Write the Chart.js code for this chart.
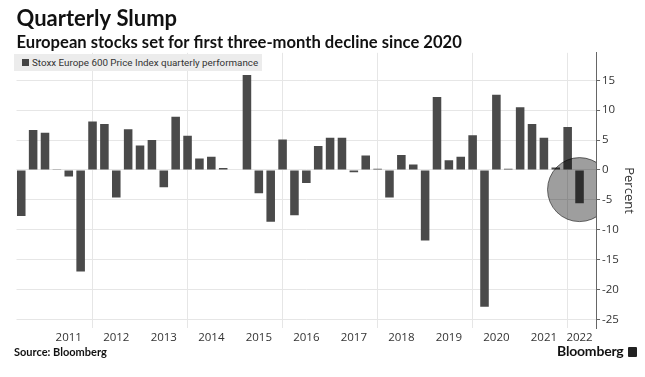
<!DOCTYPE html>
<html><head><meta charset="utf-8">
<script src="https://cdn.jsdelivr.net/npm/chart.js@4/dist/chart.umd.min.js"></script>
<style>
html,body{margin:0;padding:0;background:#fff;}
#wrap{position:relative;width:645px;height:377px;overflow:hidden;}
canvas{position:absolute;left:0;top:0;}
.lg{position:absolute;left:14px;top:54px;width:248px;height:17px;background:#ececec;font:9.8px Roboto,sans-serif;color:#333;line-height:17px;box-sizing:border-box;padding-left:18px;white-space:nowrap;}
.mk{position:absolute;left:8px;top:5px;width:7px;height:7px;background:#444;}
.src{position:absolute;left:14px;top:345px;font:bold 11px Lato,sans-serif;color:#111;}
.logo{position:absolute;left:557px;top:342px;font:bold 14px Lato,sans-serif;color:#111;letter-spacing:-0.2px;}
.ic{display:inline-block;width:9px;height:10px;background:#222;border-radius:1px;margin-left:4px;vertical-align:-1px;}
</style></head><body>
<div id="wrap"><canvas id="c" width="645" height="377"></canvas>
<div class="lg" id="lg"><span class="mk"></span><span id="lgText"></span></div>
<div class="src">Source: Bloomberg</div>
<div class="logo">Bloomberg<span class="ic"></span></div>
</div>
<script>
const quarters = [
  'Q2 2010','Q3 2010','Q4 2010',
  'Q1 2011','Q2 2011','Q3 2011','Q4 2011',
  'Q1 2012','Q2 2012','Q3 2012','Q4 2012',
  'Q1 2013','Q2 2013','Q3 2013','Q4 2013',
  'Q1 2014','Q2 2014','Q3 2014','Q4 2014',
  'Q1 2015','Q2 2015','Q3 2015','Q4 2015',
  'Q1 2016','Q2 2016','Q3 2016','Q4 2016',
  'Q1 2017','Q2 2017','Q3 2017','Q4 2017',
  'Q1 2018','Q2 2018','Q3 2018','Q4 2018',
  'Q1 2019','Q2 2019','Q3 2019','Q4 2019',
  'Q1 2020','Q2 2020','Q3 2020','Q4 2020',
  'Q1 2021','Q2 2021','Q3 2021','Q4 2021',
  'Q1 2022'
];
const performance = [
  -7.7, 6.7, 6.2,
  0.1, -1.1, -17.0, 8.1,
  7.7, -4.6, 6.8, 4.1,
  5.0, -2.9, 8.9, 5.7,
  1.9, 2.2, 0.3, -0.1,
  15.9, -3.9, -8.7, 5.1,
  -7.6, -2.2, 4.0, 5.4,
  5.4, -0.4, 2.4, 0.2,
  -4.6, 2.5, 0.9, -11.8,
  12.2, 1.6, 2.2, 5.8,
  -22.9, 12.6, 0.2, 10.5,
  7.7, 5.4, 0.4, 7.2,
  -5.6
];
const yearLabels = ['2011','2012','2013','2014','2015','2016','2017','2018','2019','2020','2021','2022'];
const highlight = [{ quarter: 'Q1 2022', value: -3.3 }];
const seriesName = 'Stoxx Europe 600 Price Index quarterly performance';

document.getElementById('lgText').textContent = seriesName;

const X_MIN = -0.4, X_MAX = 48.39;

const labelTicks = {};
yearLabels.forEach(y => {
  let i = quarters.indexOf('Q2 ' + y);
  if (i < 0) i = quarters.indexOf('Q1 ' + y);
  labelTicks[i] = y;
});
const gridTicks = [];
quarters.forEach((q, i) => {
  const yr = +q.slice(3);
  if (q.startsWith('Q4') && yr % 2 === 1) gridTicks.push(i);
});

const barPoints = performance.map((v, i) => ({ x: i, y: v }));
const bubblePoints = highlight.map(h => ({ x: quarters.indexOf(h.quarter), y: h.value, r: 32 }));

new Chart(document.getElementById('c'), {
  type: 'bar',
  data: {
    datasets: [
      { type: 'bubble', label: 'highlight', data: bubblePoints, order: 0,
        backgroundColor: 'rgba(0,0,0,0.38)', borderColor: 'rgba(0,0,0,0.55)', borderWidth: 1 },
      { type: 'bar', label: seriesName, data: barPoints, order: 1,
        backgroundColor: '#4a4a4a', borderWidth: 0,
        barPercentage: 0.72, categoryPercentage: 1 }
    ]
  },
  options: {
    responsive: false,
    animation: false,
    devicePixelRatio: 1,
    layout: { autoPadding: false, padding: { left: 16.5, right: 4.5, top: 0, bottom: 29 } },
    plugins: {
      tooltip: { enabled: false },
      legend: { display: false },
      title: {
        display: true, text: 'Quarterly Slump', align: 'start', color: '#111',
        font: { family: 'Lato', size: 22, weight: 'bold', lineHeight: 1.2 },
        padding: { top: 6, bottom: 0 }
      },
      subtitle: {
        display: true, text: 'European stocks set for first three-month decline since 2020', align: 'start', color: '#111',
        font: { family: 'Lato', size: 16.6, weight: 'bold', lineHeight: 1.2 },
        padding: { top: 0, bottom: 0.5 }
      }
    },
    scales: {
      x: {
        type: 'linear', offset: false, min: X_MIN, max: X_MAX,
        afterBuildTicks: (scale) => {
          const vals = Object.keys(labelTicks).map(Number).concat(gridTicks).sort((a, b) => a - b);
          scale.ticks = [X_MIN].concat(vals, [X_MAX]).map(v => ({ value: v }));
        },
        ticks: {
          autoSkip: false, maxRotation: 0, padding: 3, color: '#333',
          font: { family: 'Open Sans', size: 11.5 },
          callback: (v) => labelTicks[v] || ''
        },
        grid: {
          offset: false, drawTicks: false,
          color: (ctx) => (ctx.tick && gridTicks.includes(ctx.tick.value)) ? '#e6e6e6' : 'rgba(0,0,0,0)'
        },
        border: { display: false }
      },
      y: {
        position: 'right', min: -26.5, max: 19.6,
        ticks: {
          stepSize: 2.5, includeBounds: false, padding: 2, color: '#333',
          font: { family: 'Open Sans', size: 11.5 },
          callback: (v) => (v % 5 === 0 ? String(v) : '')
        },
        grid: {
          tickLength: 4, tickColor: '#666',
          color: (ctx) => (ctx.tick && ctx.tick.value % 5 === 0) ? '#e6e6e6' : 'rgba(0,0,0,0)'
        },
        border: { display: true, color: '#666' },
        title: { display: true, text: 'Percent', color: '#333', font: { family: 'Open Sans', size: 13 }, padding: { top: 4, bottom: 0 } }
      }
    }
  }
});
</script>
</body></html>
